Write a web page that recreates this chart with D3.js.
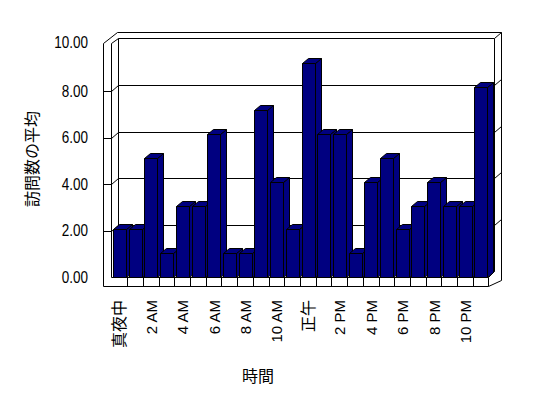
<!DOCTYPE html>
<html><head><meta charset="utf-8">
<script src="https://cdn.jsdelivr.net/npm/d3@7"></script>
<style>
html,body{margin:0;padding:0;background:#fff;}
svg{display:block;}
text{font-family:"Liberation Sans","Noto Sans CJK JP",sans-serif;fill:#000;}
</style></head>
<body>
<svg id="c" width="548" height="398"></svg>
<script>
// ---- data ----
const categories = ["真夜中","1 AM","2 AM","3 AM","4 AM","5 AM","6 AM","7 AM","8 AM","9 AM","10 AM","11 AM",
                    "正午","1 PM","2 PM","3 PM","4 PM","5 PM","6 PM","7 PM","8 PM","9 PM","10 PM","11 PM"];
const values = [2,2,5,1,3,3,6,1,1,7,4,2,9,6,6,1,4,5,2,3,4,3,3,8];
const tickLabels = ["真夜中","2 AM","4 AM","6 AM","8 AM","10 AM","正午","2 PM","4 PM","6 PM","8 PM","10 PM"];
const yTicks = [0,2,4,6,8,10];
const yTitle = "訪問数の平均";
const xTitle = "時間";

const svg = d3.select("#c");
const x = d3.scaleBand().domain(categories).range([111.5, 488.5]).padding(0);
const yBar = d3.scaleLinear().domain([0,10]).range([277, 39]);
const yWall = d3.scaleLinear().domain([0,10]).range([271.5, 38.5]);
const B = {dx:6, dy:-5};     // bar depth
const navy = "#000080";
const px = v => Math.round(v) + 0.5;

const g = svg.append("g");
const line = (pts) => g.append("path").attr("d", d3.line()(pts)).attr("fill","none").attr("stroke","#000").attr("stroke-width",1);

// frame
const L0 = 103.5, L1 = 111.5, BW0 = 118.5, BW1 = 494.5, BR = 501.5;
const topF = 43.5;
const topB = 38.5;
const floorTop = 277.5, floorBot = 286.5, FR = 488.5;
g.append("path").attr("d", d3.line()([[L0,topF],[L0+14,topB-6],[BR,topB-6],[BR,280.5],[FR,floorBot],[L0,floorBot]])+"Z")
  .attr("fill","#fff").attr("stroke","#000");
line([[L1,topF],[BW0,topB],[BW1,topB],[BR,topB-6]]);
line([[BW0,topB],[BW0,271.5]]);
line([[BW1,topB],[BW1,271.5]]);
line([[BW0,271.5],[BW1,271.5]]);
line([[L1,topF],[L1,floorTop]]);
line([[L1,floorTop],[FR,floorTop]]);
line([[FR,floorTop],[BW1,271.5]]);
line([[FR,floorTop],[FR,floorBot]]);
categories.slice(1).forEach(c => {
  const xx = px(x(c));
  line([[xx,floorTop],[xx,floorBot]]);
});
// gridlines
yTicks.filter(v => v>0 && v<10).forEach(v => {
  const yb = px(yWall(v));
  line([[BW0,yb],[BW0,yb]]);
  line([[BW0,yb],[BW1,yb]]);
  line([[BW0,yb],[L1,yb+6],[L0,yb+6]]);
  line([[BW1,yb],[BR,yb-6]]);
});

// bars
const bw = 13;
values.forEach((v,i) => {
  const xl = px(x(categories[i]) + 1.5), xr = xl + bw;
  const yt = px(yBar(v)), yb = floorTop;
  const poly = (pts) => g.append("path").attr("d", d3.line()(pts)+"Z").attr("fill",navy).attr("stroke","#000").attr("stroke-width",1).attr("stroke-linejoin","miter");
  poly([[xr,yt],[xr+B.dx,yt+B.dy],[xr+B.dx,yb+B.dy],[xr,yb]]);
  poly([[xl,yt],[xr,yt],[xr+B.dx,yt+B.dy],[xl+B.dx,yt+B.dy]]);
  poly([[xl,yt],[xr,yt],[xr,yb],[xl,yb]]);
});

// y tick labels
yTicks.forEach(v => {
  g.append("text").attr("transform",`translate(88,${yWall(v)+5.5 + (v===10?-2:0)}) scale(0.9,1.1)`)
    .attr("text-anchor","end").attr("dominant-baseline","central")
    .style("font-size","15px").text(d3.format(".2f")(v));
});
// x tick labels
categories.forEach((c,i) => {
  if (i % 2) return;
  const cx = x(c) + x.bandwidth()/2 + 0.5;
  g.append("text").attr("transform",`translate(${cx},300) rotate(-90)`)
    .attr("text-anchor","end").attr("dominant-baseline","central")
    .style("font-size", /[A-Z]/.test(c) ? "15px" : "16px").text(c);
});
// axis titles
g.append("text").attr("transform","translate(258,376)").attr("text-anchor","middle").attr("dominant-baseline","central")
  .style("font-size","16px").text(xTitle);
g.append("text").attr("transform","translate(32,159) rotate(-90)").attr("text-anchor","middle").attr("dominant-baseline","central")
  .style("font-size","16px").text(yTitle);
</script>
</body></html>
